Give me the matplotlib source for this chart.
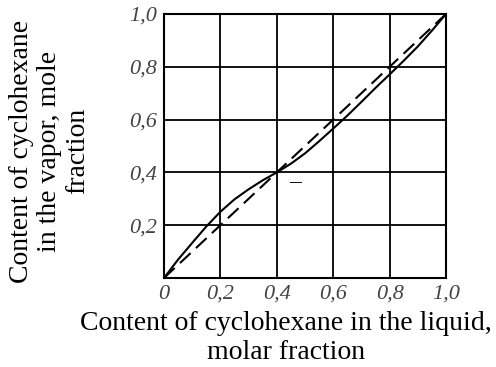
import matplotlib
matplotlib.use('Agg')
import matplotlib.pyplot as plt

# equilibrium curve
x_liquid = [0.0, 0.05, 0.1, 0.15, 0.2, 0.25, 0.3, 0.35, 0.4, 0.45, 0.5, 0.55, 0.6, 0.65, 0.7, 0.75, 0.8, 0.85, 0.9, 0.95, 1.0]
y_vapor = [0.0, 0.07, 0.133, 0.195, 0.251, 0.298, 0.336, 0.37, 0.4, 0.433, 0.472, 0.518, 0.566, 0.615, 0.667, 0.72, 0.771, 0.823, 0.877, 0.937, 1.0]
diag = [0.0, 1.0]

x_ticks = [0.0, 0.2, 0.4, 0.6, 0.8, 1.0]
x_labels = ['0', '0,2', '0,4', '0,6', '0,8', '1,0']
y_ticks = [0.2, 0.4, 0.6, 0.8, 1.0]
y_labels = ['0,2', '0,4', '0,6', '0,8', '1,0']

plt.rcParams['font.family'] = ['Liberation Serif', 'DejaVu Serif']

fig = plt.figure(figsize=(4.96, 3.67), dpi=100)
ax = fig.add_axes([164 / 496, 1 - 278 / 367, 282 / 496, 264 / 367])

ax.plot(diag, diag, color='black', linestyle=(0, (7, 3.5)), linewidth=1.5)
ax.plot(x_liquid, y_vapor, color='black', linewidth=1.5)
ax.text(0.445, 0.36, '–', fontsize=17, ha='left', va='center')

ax.set_xlim(0, 1)
ax.set_ylim(0, 1)
ax.set_xticks(x_ticks)
ax.set_xticklabels(x_labels, fontstyle='italic', fontsize=16, color='#444444')
ax.set_yticks(y_ticks)
ax.set_yticklabels(y_labels, fontstyle='italic', fontsize=16, color='#444444')
ax.tick_params(length=0, pad=5)
ax.grid(True, color='black', linewidth=1.3)
for s in ax.spines.values():
    s.set_linewidth(1.5)

ax.set_xlabel('Content of cyclohexane in the liquid,\nmolar fraction', fontsize=20, linespacing=1.2)
ax.xaxis.set_label_coords(0.433, -0.125)
ax.set_ylabel('Content of cyclohexane\nin the vapor, mole\nfraction', fontsize=20, linespacing=1.15)
ax.yaxis.set_label_coords(-0.262, 0.48)

fig.savefig('out.png', dpi=100)
